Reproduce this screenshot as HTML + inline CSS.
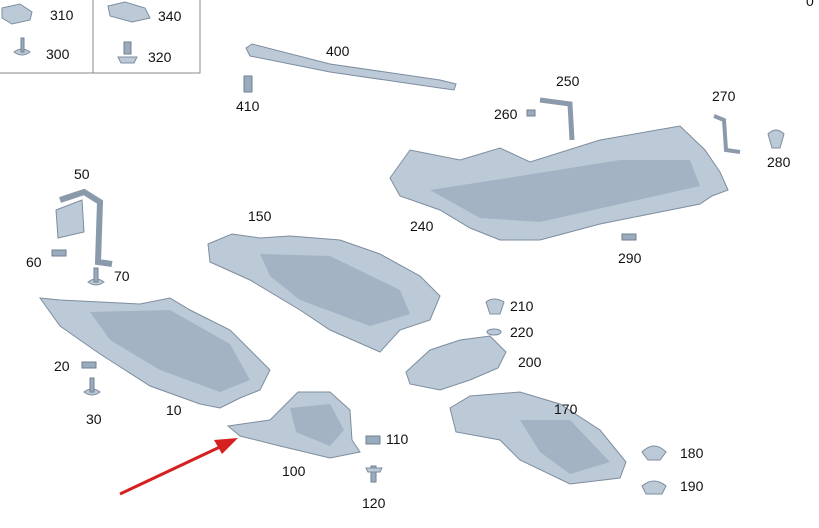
<!DOCTYPE html>
<html><head><style>
html,body{margin:0;padding:0;background:#fff;}
svg{display:block;}
text{font-family:"Liberation Sans",sans-serif;font-size:14px;fill:#111;}
.p{fill:#bccad7;stroke:#7d8d9e;stroke-width:1;}
.d{fill:#9aabbd;stroke:#6f8092;stroke-width:1;}
.l{fill:#a3b3c4;}
</style></head><body>
<svg width="819" height="528" viewBox="0 0 819 528">
<path d="M0 73 H200 V0 M93 0 V73" fill="none" stroke="#888" stroke-width="1"/>
<text x="50" y="20">310</text><text x="46" y="59">300</text>
<text x="158" y="21">340</text><text x="148" y="62">320</text>
<polygon class="p" points="2,8 20,4 32,12 30,20 12,24 2,18"/>
<polygon class="p" points="108,6 125,2 145,8 150,18 132,22 110,16"/>
<path class="p" d="M14 52 Q22 46 30 52 Q22 58 14 52 Z"/><rect class="d" x="21" y="38" width="3" height="14"/>
<rect class="d" x="124" y="42" width="7" height="12"/><path class="p" d="M118 57 L137 57 L134 63 L121 63 Z"/>
<polygon class="p" points="246,48 252,44 330,64 440,80 456,84 454,90 440,88 330,72 250,56"/>
<text x="326" y="56">400</text>
<rect class="d" x="244" y="76" width="8" height="16"/>
<text x="236" y="111">410</text>
<path d="M540 100 L570 104 L572 140" fill="none" stroke="#8a9aab" stroke-width="5"/>
<text x="556" y="86">250</text><text x="494" y="119">260</text>
<rect class="d" x="527" y="110" width="8" height="6"/>
<path d="M714 116 L724 120 L726 150 L740 152" fill="none" stroke="#8a9aab" stroke-width="4"/>
<text x="712" y="101">270</text>
<path class="p" d="M768 134 Q776 126 784 134 L780 148 L772 148 Z"/>
<text x="767" y="167">280</text>
<polygon class="p" points="390,178 410,150 460,160 500,148 530,162 600,140 680,126 705,150 720,172 728,190 712,196 700,204 640,216 600,224 540,240 500,240 470,228 440,210 400,196"/>
<polygon class="l" points="430,190 520,176 620,160 690,160 700,186 620,204 540,222 480,218"/>
<text x="410" y="231">240</text>
<rect class="d" x="622" y="234" width="14" height="6"/>
<text x="618" y="263">290</text>
<path d="M60 200 L84 192 L100 202 L98 262 L112 264" fill="none" stroke="#8a9aab" stroke-width="6"/>
<polygon class="p" points="56,210 82,200 84,232 58,238"/>
<text x="74" y="179">50</text>
<rect class="d" x="52" y="250" width="14" height="6"/><text x="26" y="267">60</text>
<path class="p" d="M88 282 Q96 276 104 282 Q96 288 88 282Z"/><rect class="d" x="94" y="268" width="4" height="14"/>
<text x="114" y="281">70</text>
<polygon class="p" points="40,298 60,300 140,304 170,298 190,310 230,330 270,370 260,390 240,398 220,408 200,404 150,386 100,354 60,326"/>
<polygon class="l" points="90,312 170,310 230,344 250,380 220,392 160,370 110,340"/>
<text x="166" y="415">10</text>
<rect class="d" x="82" y="362" width="14" height="6"/><text x="54" y="371">20</text>
<path class="p" d="M84 392 Q92 386 100 392 Q92 398 84 392Z"/><rect class="d" x="90" y="378" width="4" height="14"/>
<text x="86" y="424">30</text>
<polygon class="p" points="208,244 232,234 260,238 290,236 340,240 380,254 420,276 440,296 430,320 400,330 380,352 330,330 300,310 250,280 210,262"/>
<polygon class="l" points="260,254 330,256 400,290 410,314 370,326 300,300 270,276"/>
<text x="248" y="221">150</text>
<path class="p" d="M486 302 Q494 296 504 302 L500 314 L490 314 Z"/><text x="510" y="311">210</text>
<ellipse class="p" cx="494" cy="332" rx="7" ry="3"/><text x="510" y="337">220</text>
<polygon class="p" points="406,372 430,350 460,340 490,336 506,352 498,368 470,380 440,390 410,384"/>
<text x="518" y="367">200</text>
<polygon class="p" points="228,426 270,420 298,392 330,392 350,410 352,440 360,452 330,458 280,446 240,436"/>
<polygon class="l" points="290,408 330,404 344,430 330,446 296,432"/>
<text x="282" y="476">100</text>
<rect class="d" x="366" y="436" width="14" height="8"/><text x="386" y="444">110</text>
<rect class="d" x="371" y="466" width="5" height="16"/><path class="p" d="M366 468 L382 468 L380 472 L368 472Z"/>
<text x="362" y="508">120</text>
<polygon class="p" points="450,408 470,396 520,392 560,404 600,430 626,462 620,478 570,484 520,460 500,440 456,432"/>
<polygon class="l" points="520,420 570,420 610,462 570,474 540,452"/>
<text x="554" y="414">170</text>
<path class="p" d="M642 452 Q654 440 666 452 L660 460 L648 460Z"/><text x="680" y="458">180</text>
<path class="p" d="M642 486 Q654 476 666 486 L662 494 L646 494Z"/><text x="680" y="491">190</text>
<line x1="120" y1="494" x2="222" y2="446" stroke="#d62020" stroke-width="3"/>
<polygon points="238,438 214,440 222,454" fill="#d62020"/>
<text x="806" y="6">0</text>
</svg>
</body></html>
